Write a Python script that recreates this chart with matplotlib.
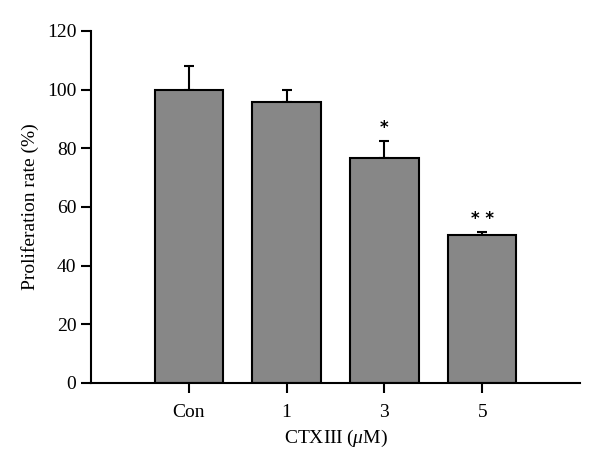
import matplotlib
matplotlib.use("Agg")
import matplotlib.pyplot as plt
import numpy as np

categories = ["Con", "1", "3", "5"]
values = [100.0, 95.8, 76.7, 50.5]
errors = [8.2, 4.1, 5.8, 1.1]
signif = ["", "", "*", "**"]
yticks = [0, 20, 40, 60, 80, 100, 120]

plt.rcParams['font.family'] = ['Liberation Serif', 'DejaVu Serif']
plt.rcParams['mathtext.fontset'] = 'custom'
plt.rcParams['mathtext.rm'] = 'Liberation Serif'
plt.rcParams['mathtext.it'] = 'Liberation Serif:italic'
fig = plt.figure(figsize=(6, 4.73), dpi=100)
ax = fig.add_axes([0.1517, 0.1903, 0.815, 0.7442])

x = np.arange(len(categories))
ax.bar(x, values, width=0.7, color="#878787", edgecolor="black", linewidth=1.5, zorder=2)
ax.errorbar(x, values, yerr=[np.zeros(len(values)), errors], fmt="none",
            ecolor="black", elinewidth=1.5, capsize=3.6, capthick=1.5, zorder=1)
for xi, v, e, s in zip(x, values, errors, signif):
    if s:
        ax.text(xi, v + e + 1.2, " ".join(s), ha="center", va="bottom", fontsize=12,
                family="DejaVu Sans", fontweight="bold")

ax.set_xlim(-1, 4)
ax.set_ylim(0, 120)
ax.set_yticks(yticks)
ax.set_xticks(x)
ax.set_xticklabels(categories)
for side in ["top", "right"]:
    ax.spines[side].set_visible(False)
for side in ["left", "bottom"]:
    ax.spines[side].set_linewidth(1.5)
ax.tick_params(axis="both", direction="out", length=7, width=1.5, labelsize=14)
ax.tick_params(axis="x", pad=8)
ax.set_ylabel("Proliferation rate (%)", fontsize=14, labelpad=6)
ax.set_xlabel(r"$\mathrm{CTXIII\ (}\mu\mathrm{M)}$", fontsize=14, labelpad=5)

fig.savefig("out.png", dpi=100)
